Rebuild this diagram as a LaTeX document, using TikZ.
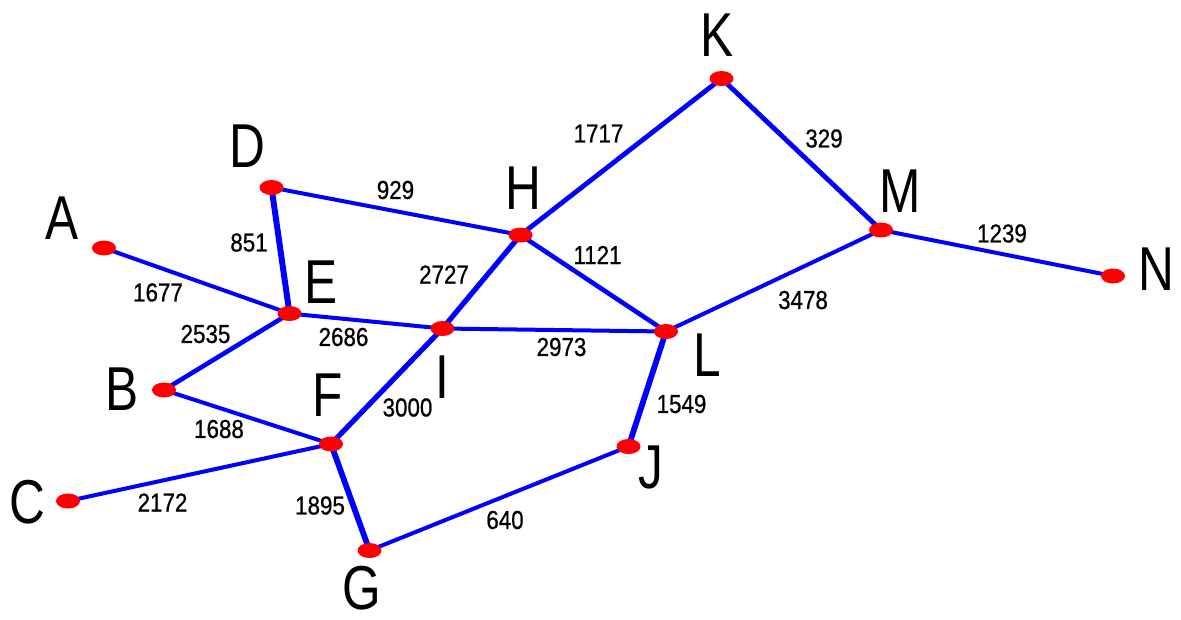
\documentclass[tikz,border=0pt]{standalone}
\usepackage{fontspec}
\setmainfont{Liberation Sans}
\newfontfamily\wtfont{Liberation Sans}[FakeBold=0.8]
\usetikzlibrary{shapes.geometric,backgrounds}
\definecolor{eblue}{RGB}{0,0,255}
\definecolor{vred}{RGB}{255,0,0}
\tikzset{
  vert/.style={ellipse,fill=vred,draw=none,minimum width=24pt,minimum height=15pt,inner sep=0pt},
  letter/.style={inner sep=0pt,font=\fontsize{62}{62}\selectfont,xscale=0.8},
  wt/.style={inner sep=0pt,font=\wtfont\fontsize{26}{26}\selectfont,xscale=0.86},
  edge/.style={eblue,line width=4pt},
}
\begin{document}
\begin{tikzpicture}[x=1pt,y=-1pt]
\useasboundingbox (0,0) rectangle (1181,619);
% vertices
\node[vert] (A) at (104,248) {};
\node[vert] (B) at (164,390) {};
\node[vert] (C) at (68,501) {};
\node[vert] (D) at (271.5,187.5) {};
\node[vert] (E) at (289.5,313.5) {};
\node[vert] (F) at (331,444) {};
\node[vert] (G) at (369.5,550.5) {};
\node[vert] (H) at (520.5,235) {};
\node[vert] (I) at (442.5,328.5) {};
\node[vert] (J) at (628.5,446.5) {};
\node[vert] (K) at (721.5,78.5) {};
\node[vert] (L) at (666,331.5) {};
\node[vert] (M) at (881,230) {};
\node[vert] (N) at (1113,276) {};
% letters
\node[letter] (tA) at (62,218) {A};
\node[letter] (tB) at (122,389) {B};
\node[letter] (tC) at (27,502) {C};
\node[letter] (tD) at (247,146) {D};
\node[letter] (tE) at (321.5,282) {E};
\node[letter] (tF) at (328,395) {F};
\node[letter] (tG) at (362,588) {G};
\node[letter] (tH) at (523,188.5) {H};
\node[letter] (tI) at (442,377) {I};
\node[letter] (tJ) at (651,467) {J};
\node[letter] (tK) at (717,35) {K};
\node[letter] (tL) at (707,355) {L};
\node[letter] (tM) at (900,191) {M};
\node[letter] (tN) at (1156,269) {N};
% weights
\node[wt] (w1677) at (158,292.5) {1677};
\node[wt] (w2535) at (205.5,334) {2535};
\node[wt] (w851) at (249,242.5) {851};
\node[wt] (w929) at (395.5,190) {929};
\node[wt] (w2686) at (343.5,337) {2686};
\node[wt] (w2727) at (444,274.5) {2727};
\node[wt] (w3000) at (407.5,407.5) {3000};
\node[wt] (w1895) at (320,505.5) {1895};
\node[wt] (w640) at (505,520) {640};
\node[wt] (w1549) at (681.5,404) {1549};
\node[wt] (w1717) at (598.5,133.5) {1717};
\node[wt] (w329) at (824,138.5) {329};
\node[wt] (w1239) at (1002,233.5) {1239};
\node[wt] (w1121) at (597.5,255) {1121};
\node[wt] (w2973) at (561.5,347) {2973};
\node[wt] (w1688) at (219,429) {1688};
\node[wt] (w2172) at (162.5,502.5) {2172};
\node[wt] (w3478) at (803,300) {3478};
% edges
\begin{scope}[on background layer]
\draw[edge] (A.center) -- (E.center);
\draw[edge,line width=6pt] (D.center) -- (E.center);
\draw[edge] (D.center) -- (H.center);
\draw[edge,line width=4.6pt] (E.center) -- (B.center);
\draw[edge] (E.center) -- (I.center);
\draw[edge] (B.center) -- (F.center);
\draw[edge] (C.center) -- (F.center);
\draw[edge,line width=5.2pt] (F.center) -- (I.center);
\draw[edge,line width=5.8pt] (F.center) -- (G.center);
\draw[edge] (G.center) -- (J.center);
\draw[edge,line width=5.2pt] (I.center) -- (H.center);
\draw[edge] (I.center) -- (L.center);
\draw[edge,line width=4.6pt] (H.center) -- (L.center);
\draw[edge,line width=4.8pt] (H.center) -- (K.center);
\draw[edge,line width=4.8pt] (K.center) -- (M.center);
\draw[edge] (M.center) -- (L.center);
\draw[edge] (M.center) -- (N.center);
\draw[edge,line width=5.8pt] (L.center) -- (J.center);
\end{scope}
\end{tikzpicture}
\end{document}
